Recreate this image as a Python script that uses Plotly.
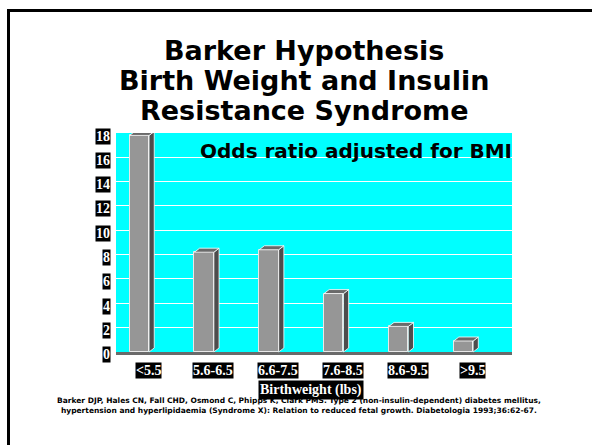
import plotly.graph_objects as go

categories = ["<5.5", "5.6-6.5", "6.6-7.5", "7.6-8.5", "8.6-9.5", ">9.5"]
odds_ratio = [17.8, 8.2, 8.4, 4.8, 2.1, 0.9]
y_ticks = [0, 2, 4, 6, 8, 10, 12, 14, 16, 18]

W, H = 592, 445
L, R, T, B = 116, 80, 133, 90
PW, PH = W - L - R, H - T - B
plot_bottom = H - B


def px(p):
    return (p - L) / PW


def py(p):
    return (plot_bottom - p) / PH


xs = list(range(len(categories)))
bw = 0.3
dx, dy = 0.08, 0.33

fig = go.Figure()

for x, v in zip(xs, odds_ratio):
    xr = x + bw / 2
    xl = x - bw / 2
    fig.add_trace(go.Scatter(
        x=[xr, xr + dx, xr + dx, xr, xr], y=[0, dy, v + dy, v, 0],
        fill="toself", fillcolor="#4d4d4d", mode="lines",
        line=dict(color="#ffffff", width=0.8), hoverinfo="skip", showlegend=False))
    fig.add_trace(go.Scatter(
        x=[xl, xl + dx, xr + dx, xr, xl], y=[v, v + dy, v + dy, v, v],
        fill="toself", fillcolor="#6a6a6a", mode="lines",
        line=dict(color="#ffffff", width=0.8), hoverinfo="skip", showlegend=False))

fig.add_trace(go.Bar(
    x=xs, y=odds_ratio, width=bw,
    marker=dict(color="#969696", line=dict(color="#e8e8e8", width=1)),
    showlegend=False, hoverinfo="skip"))

shapes = [
    dict(type="rect", xref="paper", yref="y", x0=0, x1=1, y0=-0.25, y1=0,
         fillcolor="#6a6a6a", line=dict(width=0), layer="below"),
    # slide frame: top and left edges in one open path
    dict(type="path", xref="paper", yref="paper",
         path=f"M {px(8.5)},{py(445)} L {px(8.5)},{py(10.5)} L {px(592)},{py(10.5)}",
         line=dict(color="black", width=3)),
]

annotations = []
title_lines = ["Barker Hypothesis", "Birth Weight and Insulin", "Resistance Syndrome"]
for line, yc in zip(title_lines, [50, 80, 111]):
    annotations.append(dict(text=f"<b>{line}</b>", xref="paper", yref="paper",
                            x=px(304), y=py(yc), xanchor="center", yanchor="middle",
                            showarrow=False,
                            font=dict(family="DejaVu Sans", size=27, color="black")))
annotations.append(dict(text="<b>Odds ratio adjusted for BMI</b>", xref="paper", yref="paper",
                        x=px(356), y=py(151), xanchor="center", yanchor="middle",
                        showarrow=False,
                        font=dict(family="DejaVu Sans", size=20, color="black")))
for t in y_ticks:
    annotations.append(dict(text=f"<b>{t}</b>", xref="paper", yref="y", x=px(111), y=t,
                            yshift=-3, xanchor="right", yanchor="middle", showarrow=False,
                            bgcolor="black", borderpad=0,
                            font=dict(family="Liberation Serif, Times New Roman", size=14,
                                      color="white")))
for x, c in zip(xs, categories):
    annotations.append(dict(text=f"<b>{c}</b>", xref="x", yref="paper", x=x, xshift=9,
                            y=py(370), xanchor="center", yanchor="middle", showarrow=False,
                            bgcolor="black", borderpad=0,
                            font=dict(family="Liberation Serif, Times New Roman", size=14,
                                      color="white")))
annotations.append(dict(text="<b>Birthweight (lbs)</b>", xref="paper", yref="paper",
                        x=px(311), y=py(390), xanchor="center", yanchor="middle",
                        showarrow=False, bgcolor="black", borderpad=1,
                        font=dict(family="Liberation Serif, Times New Roman", size=14,
                                  color="white")))
annotations.append(dict(
    text="<b>Barker DJP, Hales CN, Fall CHD, Osmond C, Phipps K, Clark PMS. Type 2 (non-insulin-dependent) diabetes mellitus,</b><br>"
         "<b>hypertension and hyperlipidaemia (Syndrome X): Relation to reduced fetal growth. Diabetologia 1993;36:62-67.</b>",
    xref="paper", yref="paper", x=px(299), y=py(405), xanchor="center", yanchor="middle",
    align="center", showarrow=False,
    font=dict(family="DejaVu Sans", size=7.5, color="black")))

fig.update_layout(
    width=W, height=H,
    margin=dict(l=L, r=R, t=T, b=B, pad=0),
    paper_bgcolor="white", plot_bgcolor="#00ffff",
    xaxis=dict(range=[-0.36, 5.75], showticklabels=False, showgrid=False, zeroline=False,
               fixedrange=True),
    yaxis=dict(range=[-0.25, 18.0], tickvals=y_ticks[1:], showticklabels=False,
               showgrid=True, gridcolor="white", gridwidth=1, zeroline=False, fixedrange=True),
    shapes=shapes, annotations=annotations, bargap=0,
)

fig.write_html(
    "out.html", config={"displayModeBar": False},
    post_script=("document.documentElement.style.overflow='hidden';"
                 "document.documentElement.style.margin='0';"
                 "document.body.style.margin='0';document.body.style.overflow='hidden';"))
